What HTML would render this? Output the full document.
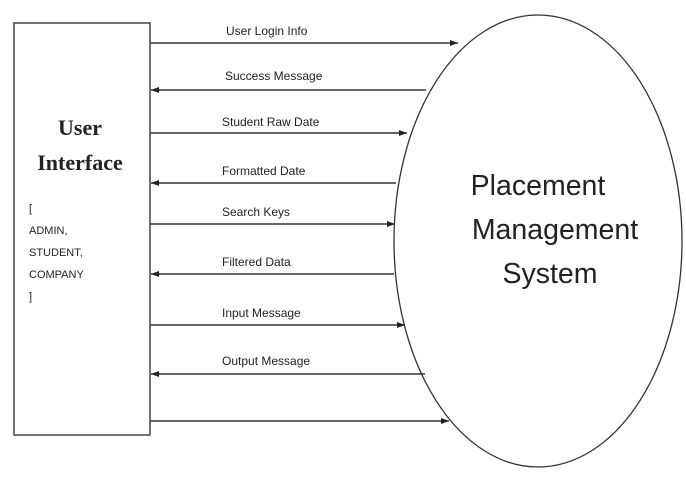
<!DOCTYPE html>
<html><head><style>
body{margin:0;background:#fff;}
svg{display:block;}
text{font-family:"Liberation Sans",sans-serif;fill:#222;}
</style></head><body>
<svg width="686" height="501" viewBox="0 0 686 501">
<defs>
<marker id="a" markerWidth="8" markerHeight="6" refX="8" refY="3" orient="auto" markerUnits="userSpaceOnUse">
<path d="M0,0 L8,3 L0,6 Z" fill="#222"/></marker>
</defs>
<rect x="14" y="23" width="136" height="412" fill="#fff" stroke="#444" stroke-width="1.5"/>
<ellipse cx="538" cy="241" rx="144" ry="226" fill="#fff" stroke="#333" stroke-width="1.3"/>
<text x="80" y="135" font-weight="bold" font-size="22" text-anchor="middle" style="font-family:'Liberation Serif',serif">User</text>
<text x="80" y="170" font-weight="bold" font-size="22" text-anchor="middle" style="font-family:'Liberation Serif',serif">Interface</text>
<g font-size="11">
<text x="29" y="212">[</text>
<text x="29" y="234">ADMIN,</text>
<text x="29" y="256">STUDENT,</text>
<text x="29" y="278">COMPANY</text>
<text x="29" y="300">]</text>
</g>
<g font-size="28.5" text-anchor="middle">
<text x="538" y="195">Placement</text>
<text x="555" y="239">Management</text>
<text x="550" y="283">System</text>
</g>
<g stroke="#333" stroke-width="1.5" marker-end="url(#a)">
<line x1="150" y1="43" x2="458" y2="43"/>
<line x1="426" y1="90" x2="151" y2="90"/>
<line x1="150" y1="133" x2="407" y2="133"/>
<line x1="396" y1="183" x2="151" y2="183"/>
<line x1="150" y1="224" x2="395" y2="224"/>
<line x1="394" y1="274" x2="151" y2="274"/>
<line x1="150" y1="325" x2="405" y2="325"/>
<line x1="425" y1="374" x2="151" y2="374"/>
<line x1="150" y1="421" x2="449" y2="421"/>
</g>
<g font-size="12">
<text x="226" y="35">User Login Info</text>
<text x="225" y="80">Success Message</text>
<text x="222" y="126">Student Raw Date</text>
<text x="222" y="175">Formatted Date</text>
<text x="222" y="216">Search Keys</text>
<text x="222" y="266">Filtered Data</text>
<text x="222" y="317">Input Message</text>
<text x="222" y="365">Output Message</text>
</g>
</svg>
</body></html>
